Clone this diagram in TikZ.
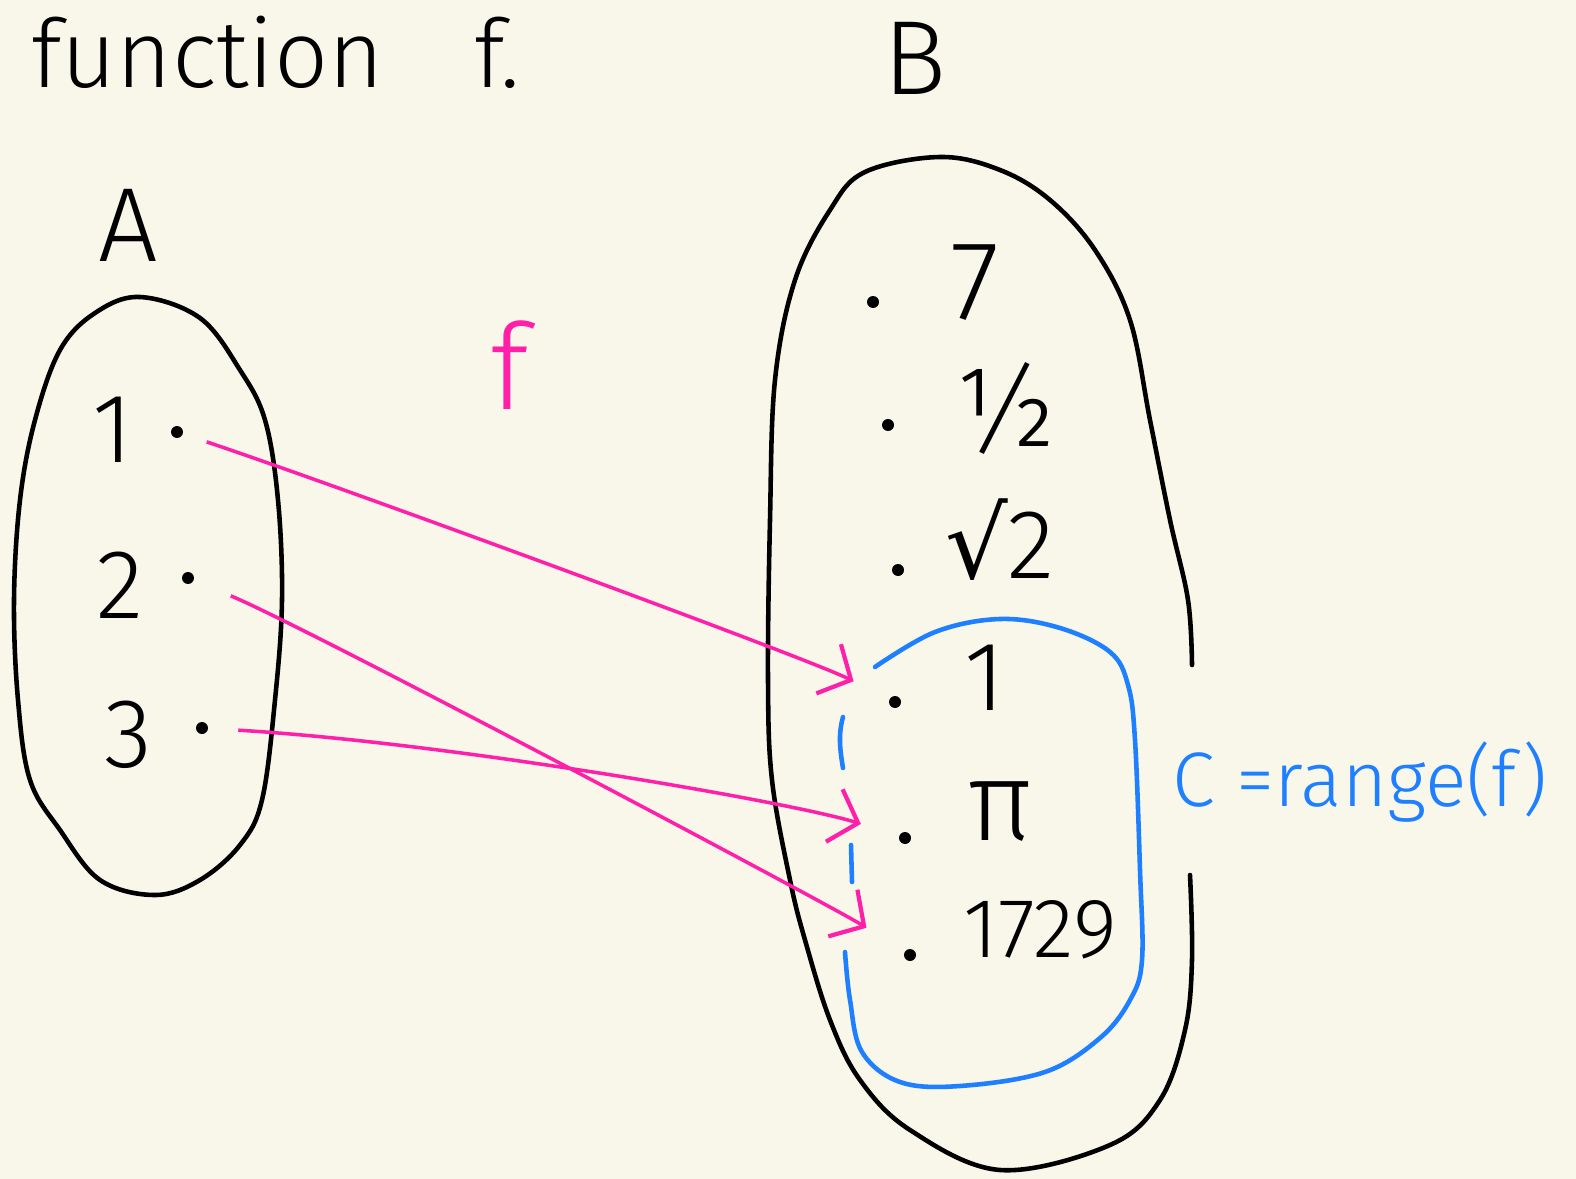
\documentclass[tikz,border=0pt]{standalone}
\usepackage{fontspec}
\setmainfont{Fira Sans Light}
\newfontfamily\symfont{DejaVu Sans}
\usetikzlibrary{arrows.meta}
\definecolor{paper}{HTML}{F8F7EA}
\definecolor{pink}{HTML}{FF1FA8}
\definecolor{sky}{HTML}{1E7FFF}

\begin{document}
\begin{tikzpicture}[
  x=0.02cm, y=-0.02cm,
  pt/.style={circle, fill=black, inner sep=0pt, minimum size=2.4mm},
  setline/.style={line width=2.6pt, line cap=round, line join=round},
  bigtxt/.style={font=\fontsize{60}{64}\selectfont},
  elt/.style={font=\fontsize{56}{60}\selectfont},
  fmap/.style={draw=pink, line width=2pt, -{Straight Barb[length=5mm,width=11mm,line width=2.4pt]}}
]
\fill[paper] (0,0) rectangle (1576,1179);
\clip (0,0) rectangle (1576,1179);

% headings
\node[bigtxt, anchor=base west, font=\fontsize{54}{58}\selectfont] (title) at (25,88) {function};
\node[bigtxt, anchor=base west, font=\fontsize{54}{58}\selectfont] (titlef) at (468,88) {f.};
\node[bigtxt] (nameA) at (128,225) {A};
\node[bigtxt] (nameB) at (915,58) {B};
\node[bigtxt, text=pink, font=\fontsize{68}{72}\selectfont] (fname) at (510,365) {f};

% the two sets
\draw[setline] plot[smooth cycle, tension=0.6] coordinates {(140,297) (200,318) (240,370) (265,420) (278,500) (282,600) (275,700) (262,800) (240,845) (200,880) (155,895) (100,880) (60,830) (30,780) (18,700) (14,600) (20,500) (35,420) (60,350) (95,313)};
\draw[setline] plot[smooth, tension=0.6] coordinates {(1190,875) (1192,960) (1185,1030) (1160,1100) (1110,1145) (1000,1170) (910,1130) (860,1080) (830,1020) (805,940) (790,880) (772,780) (768,680) (770,520) (775,380) (795,280) (830,210) (865,172) (940,157) (1000,170) (1050,200) (1095,250) (1130,320) (1150,420) (1170,520) (1188,600) (1192,665)};

% domain A
\node[elt] (l1) at (113,430) {1};
\node[elt] (l2) at (120,585) {2};
\node[elt] (l3) at (128,735) {3};
\node[pt] (a1) at (177,432) {};
\node[pt] (a2) at (188,578) {};
\node[pt] (a3) at (202,728) {};

% codomain B
\node[pt] (b1) at (873,302) {};
\node[pt] (b2) at (888,425) {};
\node[pt] (b3) at (898,570) {};
\node[pt] (b4) at (895,702) {};
\node[pt] (b5) at (905,838) {};
\node[pt] (b6) at (910,955) {};
\node[elt, font=\fontsize{64}{68}\selectfont] (v1) at (975,283) {7};
\node[elt, font=\fontsize{64}{68}\selectfont] (v2) at (1005,408) {½};
\node[elt] (v3) at (1000,540) {{\symfont √}2};
\node[elt] (v4) at (985,678) {1};
\node[elt, font=\fontsize{64}{68}\selectfont] (v5) at (1000,812) {π};
\node[elt, font=\fontsize{48}{52}\selectfont] (v6) at (1040,930) {1729};

% range C
\draw[sky, setline] plot[smooth, tension=0.6] coordinates {(875,667) (935,632) (1000,619) (1060,628) (1110,652) (1128,685) (1135,740) (1140,870) (1142,960) (1130,1000) (1100,1038) (1045,1072) (960,1086) (900,1082) (862,1052) (850,1000) (845,952)};
\draw[sky, setline] (843,717) .. controls (838,735) and (840,750) .. (843,768);
\draw[sky, setline] (851,845) -- (852,882);
\node[text=sky, anchor=west, inner sep=0pt, font=\fontsize{44}{48}\selectfont] (rangeC) at (1172,782) {C =range(f)};

% the map f
\draw[fmap, shorten <=5mm, shorten >=8mm] (a1) .. controls +(150,50) and +(-90,-45) .. (b4);
\draw[fmap, shorten <=8mm, shorten >=9mm] (a2) .. controls +(120,50) and +(-80,-50) .. (b6);
\draw[fmap, shorten <=6mm, shorten >=8mm] (a3) .. controls +(250,15) and +(-110,-35) .. (b5);
\end{tikzpicture}
\end{document}
